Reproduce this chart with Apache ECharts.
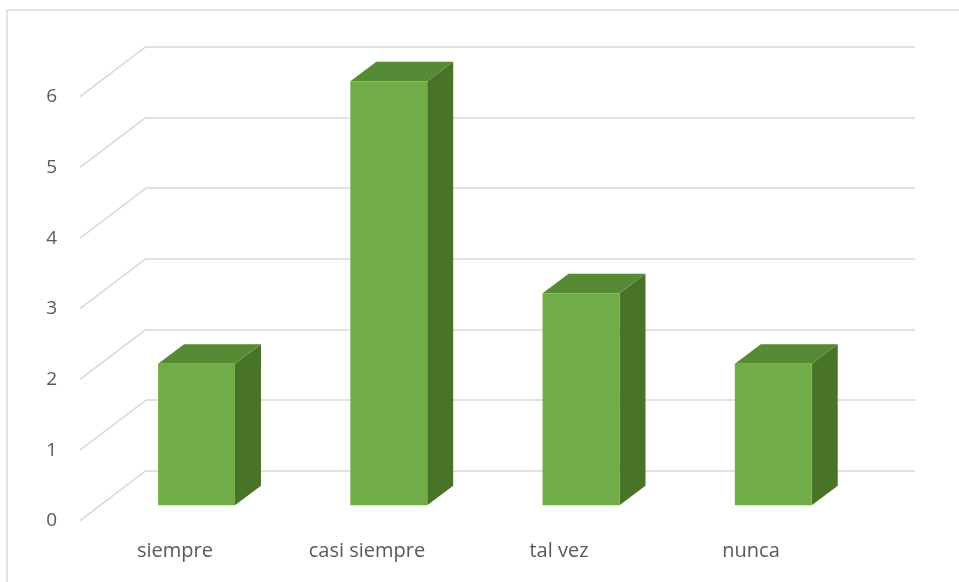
<!DOCTYPE html>
<html>
<head>
<meta charset="utf-8">
<script src="https://cdn.jsdelivr.net/npm/echarts@6/dist/echarts.min.js"></script>
<style>html,body{margin:0;padding:0;background:#fff}#c{width:959px;height:582px}</style>
</head>
<body>
<div id="c"></div>
<script>
const categories = ['siempre', 'casi siempre', 'tal vez', 'nunca'];
const values = [2, 6, 3, 2];
const yTicks = [0, 1, 2, 3, 4, 5, 6];

const FONT = 'Open Sans';
const TXT = '#595959';
const GRID_C = '#d9d9d9';
const FRONT_DX = -45.6, FRONT_DY = 34.5;
const DEPTH_DX = 26, DEPTH_DY = -19.5;
const WALL_DX = -66, WALL_DY = 50;

const chart = echarts.init(document.getElementById('c'), null, {renderer: 'canvas'});
chart.setOption({
  animation: false,
  backgroundColor: '#fff',
  graphic: [{
    type: 'rect', z: -10, silent: true,
    shape: {x: 7, y: 10, width: 1000, height: 1000},
    style: {fill: 'none', stroke: GRID_C, lineWidth: 1.5}
  }],
  grid: [
    {left: 146, right: 44, top: 46.7, bottom: 111.3},
    {left: 79, right: 112, top: 97, bottom: 61}
  ],
  xAxis: [
    {gridIndex: 0, type: 'category', data: categories, show: false},
    {gridIndex: 1, type: 'category', data: categories,
     axisLine: {show: false}, axisTick: {show: false}, splitLine: {show: false},
     axisLabel: {color: TXT, fontFamily: FONT, fontSize: 20, margin: 20}}
  ],
  yAxis: [
    {gridIndex: 0, type: 'value', min: 0, max: 6, interval: 1,
     axisLine: {show: false}, axisTick: {show: false}, axisLabel: {show: false},
     splitLine: {lineStyle: {color: GRID_C, width: 1.5}}},
    {gridIndex: 1, type: 'value', min: 0, max: 6, interval: 1,
     axisLine: {show: false}, axisTick: {show: false}, splitLine: {show: false},
     axisLabel: {color: TXT, fontFamily: FONT, fontSize: 19, margin: 22}}
  ],
  series: [
    {
      type: 'custom', xAxisIndex: 0, yAxisIndex: 0, silent: true, z: 1,
      data: yTicks.map(v => [0, v]),
      renderItem: function (params, api) {
        const p = api.coord([0, api.value(1)]);
        const x0 = params.coordSys.x;
        return {type: 'line', shape: {x1: x0, y1: p[1], x2: x0 + WALL_DX, y2: p[1] + WALL_DY},
                style: {stroke: GRID_C, lineWidth: 1.5}};
      }
    },
    {
      type: 'custom', xAxisIndex: 0, yAxisIndex: 0, silent: true, z: 5,
      data: values.map((v, i) => [i, v]),
      renderItem: function (params, api) {
        const c = api.coord([api.value(0), api.value(1)]);
        const c0 = api.coord([api.value(0), 0]);
        const bw = api.size([1, 0])[0] * 0.4;
        const fx = c[0] + FRONT_DX - bw / 2;
        const top = c[1] + FRONT_DY;
        const bot = c0[1] + FRONT_DY;
        return {type: 'group', children: [
          {type: 'polygon', shape: {points: [[fx + bw, top], [fx + bw + DEPTH_DX, top + DEPTH_DY], [fx + bw + DEPTH_DX, bot + DEPTH_DY], [fx + bw, bot]]},
           style: {fill: '#4a732a'}},
          {type: 'polygon', shape: {points: [[fx, top], [fx + bw, top], [fx + bw + DEPTH_DX, top + DEPTH_DY], [fx + DEPTH_DX, top + DEPTH_DY]]},
           style: {fill: '#568a35'}},
          {type: 'rect', shape: {x: fx, y: top, width: bw, height: bot - top},
           style: {fill: '#70ad47'}}
        ]};
      }
    }
  ]
});
</script>
</body>
</html>
